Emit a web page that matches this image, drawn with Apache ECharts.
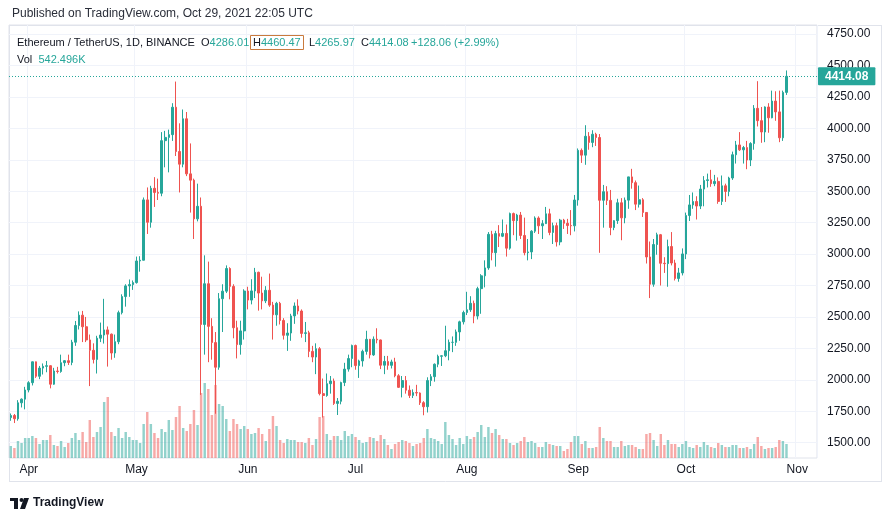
<!DOCTYPE html>
<html><head><meta charset="utf-8">
<script src="https://cdn.jsdelivr.net/npm/echarts/dist/echarts.min.js"></script>
<style>html,body{margin:0;padding:0;background:#fff}#c{width:892px;height:521px}</style>
</head><body><div id="c"></div>
<script>
// ---- data (ETH/USDT daily, Binance) ----
const startDate = '2021-03-27';
const axisEndDate = '2021-11-06';
const monthNames = ['Jan','Feb','Mar','Apr','May','Jun','Jul','Aug','Sep','Oct','Nov','Dec'];
const priceTicks = [1500,1750,2000,2250,2500,2750,3000,3250,3500,3750,4000,4250,4500,4750];

const opens = [
1700,1716,1690,1817,1846,
1919,1977,2143,2028,2093,2107,2112,1965,2070,2066,2136,2152,2138,2299,2432,2514,2422,2317,2235,2162,2331,2356,2397,2363,2213,2303,2534,2662,2747,2757,
2773,2945,2951,3431,3253,3523,3490,3484,3902,3928,3950,4168,3816,3715,4076,3638,3588,3280,3380,2440,2764,2425,2296,2100,2645,2705,2885,2743,2414,2280,2389,
2706,2634,2707,2855,2690,2628,2712,2594,2517,2608,2472,2354,2372,2508,2587,2547,2369,2374,2226,2181,2247,1890,1875,1969,1990,1812,1829,1978,2085,2169,
2273,2113,2150,2226,2322,2198,2323,2317,2116,2146,2115,2142,2032,1940,1994,1917,1876,1898,1895,1818,1786,1994,2025,2124,2187,2191,2231,2298,2298,2381,2461,
2535,2557,2608,2507,2725,2827,2890,3157,3011,3163,3142,3164,3047,3322,3266,3310,3148,3011,3017,3182,3287,3225,3242,3320,3172,3226,3097,3270,3245,3227,3225,
3430,3825,3787,3937,3888,3953,3927,3428,3496,3427,3211,3266,3408,3288,3429,3614,3568,3397,3432,3331,2977,2760,3076,3154,2927,2924,3060,2929,2806,2850,
3001,3307,3391,3418,3382,3517,3585,3591,3560,3578,3419,3543,3498,3605,3790,3868,3829,3847,3748,3879,4159,4061,3971,4170,4084,4217,4131,3925,4286.01
];
const closes = [
1716,1690,1817,1846,1919,
1977,2143,2028,2093,2107,2112,1965,2070,2066,2136,2152,2138,2299,2432,2514,2422,2317,2235,2162,2331,2356,2397,2363,2213,2303,2534,2662,2747,2757,2773,
2945,2951,3431,3253,3523,3490,3484,3902,3928,3950,4168,3816,3715,4076,3638,3588,3280,3380,2440,2764,2425,2296,2100,2645,2705,2885,2743,2414,2280,2389,2706,
2634,2707,2855,2690,2628,2712,2594,2517,2608,2472,2354,2372,2508,2587,2547,2369,2374,2226,2181,2247,1890,1875,1969,1990,1812,1829,1978,2085,2169,2273,
2113,2150,2226,2322,2198,2323,2317,2116,2146,2115,2142,2032,1940,1994,1917,1876,1898,1895,1818,1786,1994,2025,2124,2187,2191,2231,2298,2298,2381,2461,2535,
2557,2608,2507,2725,2827,2890,3157,3011,3163,3142,3164,3047,3322,3266,3310,3148,3011,3017,3182,3287,3225,3242,3320,3172,3226,3097,3270,3245,3227,3225,3430,
3825,3787,3937,3888,3953,3927,3428,3496,3427,3211,3266,3408,3288,3429,3614,3568,3397,3432,3331,2977,2760,3076,3154,2927,2924,3060,2929,2806,2850,3001,
3307,3391,3418,3382,3517,3585,3591,3560,3578,3419,3543,3498,3605,3790,3868,3829,3847,3748,3879,4159,4061,3971,4170,4084,4217,4131,3925,4286,4414.08
];
const highs = [
1732,1728,1838,1852,1944,
1989,2145,2145,2110,2130,2150,2115,2095,2103,2200,2157,2200,2318,2468,2544,2548,2500,2360,2290,2350,2455,2644,2424,2368,2360,2550,2680,2760,2798,2790,
2980,2983,3450,3530,3543,3612,3600,3970,3980,3990,4200,4372,4040,4150,4130,3880,3600,3560,3450,2990,2940,2490,2380,2690,2760,2910,2895,2760,2470,2470,2720,
2740,2800,2890,2860,2820,2745,2845,2620,2620,2620,2490,2450,2525,2615,2640,2560,2460,2390,2270,2290,2260,2010,2050,2030,2010,1855,1985,2135,2200,2280,
2280,2160,2240,2390,2325,2345,2410,2320,2190,2190,2160,2175,2045,2030,2030,1955,1924,1960,1900,1830,2020,2045,2130,2200,2195,2430,2320,2345,2400,2470,2550,
2700,2665,2630,2740,2840,2950,3175,3185,3185,3230,3275,3235,3330,3330,3320,3335,3290,3120,3190,3300,3300,3270,3375,3360,3250,3250,3280,3280,3280,3350,3470,
3840,3840,4025,3970,3985,3965,3955,3550,3540,3510,3270,3440,3445,3450,3615,3678,3585,3545,3445,3332,3100,3120,3170,3160,2975,3115,3175,2955,2890,3045,
3330,3470,3490,3460,3550,3620,3640,3670,3630,3610,3625,3560,3615,3815,3900,3970,3860,3900,3890,4185,4375,4170,4175,4200,4300,4295,4300,4300,4460.47
];
const lows = [
1674,1656,1675,1780,1765,
1900,1955,2015,2005,2042,2060,1932,1960,2050,2056,2108,2118,2116,2270,2400,2300,2300,1950,2130,2050,2300,2288,2105,2160,2175,2283,2520,2582,2660,2715,
2765,2860,2950,3160,3210,3375,3430,3460,3690,3650,3900,3780,3490,3690,3620,3330,3120,3260,1880,2200,2140,2160,1730,2080,2380,2690,2640,2330,2170,2200,2320,
2560,2600,2650,2550,2560,2610,2580,2320,2430,2440,2320,2230,2310,2445,2520,2335,2300,2180,2140,2045,1876,1700,1865,1890,1800,1720,1805,1950,2065,2100,
2080,2015,2105,2200,2170,2190,2290,2085,2045,2080,2090,2020,1935,1860,1890,1855,1855,1870,1800,1718,1740,1950,1985,2100,2110,2180,2155,2220,2270,2310,2440,
2515,2540,2450,2480,2525,2735,2875,2950,2900,3056,3135,2980,3035,3150,3107,3120,2990,2950,2960,3168,3160,3120,3240,3150,3080,3060,3070,3200,3160,3150,3180,
3385,3725,3710,3830,3850,3860,3010,3210,3390,3150,3190,3240,3110,3245,3360,3520,3350,3370,3295,2925,2650,2740,2995,2750,2850,2740,2910,2790,2780,2830,
2960,3263,3360,3275,3358,3380,3530,3535,3540,3400,3390,3415,3460,3590,3720,3820,3720,3675,3700,3830,4015,3885,3890,3965,4080,4060,3890,3900,4265.97
];
// volume in thousands of ETH
const volumes = [
465,388,659,581,775,
775,853,775,543,698,698,891,504,465,659,426,581,775,969,698,1008,620,1473,814,1008,1201,2170,2364,1008,853,1163,775,1008,814,698,
698,581,1318,1783,1318,969,775,1124,1008,1473,1085,1589,2015,1163,1046,1318,1860,1279,2519,2906,2674,1666,2829,2093,2015,1511,1046,1511,1318,1124,1240,
1124,930,969,1163,930,659,1124,1628,1240,698,581,736,698,698,620,620,581,775,504,736,1589,1628,930,698,853,853,698,1046,853,930,
814,698,581,620,814,775,659,891,736,504,349,543,620,698,659,581,465,543,581,775,1124,775,736,659,543,1395,891,736,504,775,543,
853,736,814,1008,1279,814,1201,969,1124,891,736,736,581,504,581,659,814,620,659,581,426,426,620,543,504,465,465,271,349,620,853,
853,543,659,388,388,426,1201,775,659,659,426,426,659,465,504,504,426,349,349,930,969,698,465,930,504,698,543,543,426,543,
659,426,388,504,426,620,504,426,388,581,504,426,426,504,504,388,388,426,349,543,814,465,349,388,388,426,698,659,542.496
];
const lastPrice = 4414.08;

// ---- build options ----
function fmt(d){const m=d.getUTCMonth()+1, dd=d.getUTCDate();return d.getUTCFullYear()+'-'+(m<10?'0':'')+m+'-'+(dd<10?'0':'')+dd;}
const dates = [];
for (let d = new Date(startDate+'T00:00:00Z'); fmt(d) <= axisEndDate; d = new Date(d.getTime()+86400000)) dates.push(fmt(d));

const UP = '#26a69a', DOWN = '#ef5350', INK = '#131722';
const FONT = '"Liberation Sans", Arial, sans-serif';
const candleData = dates.map((d,i)=> i<opens.length ? [opens[i],closes[i],lows[i],highs[i]] : '-');
const volData = dates.map((d,i)=> i<volumes.length ? {value: volumes[i], itemStyle:{color: closes[i]>=opens[i] ? 'rgba(38,166,154,0.5)' : 'rgba(239,83,80,0.5)'}} : '-');
const isMonthStart = (idx, val) => typeof val === 'string' && val.slice(8) === '01';

const richKV = {k:{fontSize:11,color:INK,fontFamily:FONT}, v:{fontSize:11,color:UP,fontFamily:FONT}};
function legendTitle(text, left, top, extra){
  return Object.assign({text: text, left: left, top: top, padding: 0, itemGap: 0,
    textStyle: {fontSize: 11, fontWeight: 'normal', color: INK, fontFamily: FONT, rich: richKV}}, extra || {});
}

const chart = echarts.init(document.getElementById('c'), null, {renderer:'canvas'});
const gridTop = 25, gridBottomY = 458;
chart.setOption({
  animation: false,
  backgroundColor: '#ffffff',
  textStyle: {fontFamily: FONT},
  title: [
    {text: 'Published on TradingView.com, Oct 29, 2021 22:05 UTC', left: 12, top: 8, padding: 0,
     textStyle: {fontSize: 12, fontWeight: 'normal', color: '#2a2e39', fontFamily: FONT}},
    legendTitle('Ethereum / TetherUS, 1D, BINANCE', 17, 37),
    legendTitle('{k|O}{v|4286.01}', 201, 37),
    legendTitle('{k|H}{v|4460.47}', 250, 35, {padding: [2,3,2,3], borderColor: '#c97a3d', borderWidth: 1}),
    legendTitle('{k|L}{v|4265.97}', 309, 37),
    legendTitle('{k|C}{v|4414.08}', 361, 37),
    legendTitle('{v|+128.06 (+2.99%)}', 411, 37),
    legendTitle('{k|Vol}  {v|542.496K}', 17, 54),
    {text: 'TradingView', left: 33, top: 497, padding: 0, textStyle:{fontSize: 12, fontWeight:'bold', color: INK, fontFamily: FONT}}
  ],
  graphic: [
    {type:'line', shape:{x1:9,y1:25.5,x2:882,y2:25.5}, style:{stroke:'#e0e3eb',lineWidth:1}, silent:true},
    {type:'line', shape:{x1:9.5,y1:25,x2:9.5,y2:482}, style:{stroke:'#e0e3eb',lineWidth:1}, silent:true},
    {type:'line', shape:{x1:881.5,y1:25,x2:881.5,y2:482}, style:{stroke:'#e0e3eb',lineWidth:1}, silent:true},
    {type:'line', shape:{x1:9,y1:481.5,x2:882,y2:481.5}, style:{stroke:'#e0e3eb',lineWidth:1}, silent:true},
    {type:'rect', shape:{x:10,y:498,width:8,height:3}, style:{fill:INK}, silent:true},
    {type:'rect', shape:{x:14,y:498,width:4,height:11}, style:{fill:INK}, silent:true},
    {type:'circle', shape:{cx:21.5,cy:500,r:2}, style:{fill:INK}, silent:true},
    {type:'polygon', shape:{points:[[24,498],[29,498],[25,509],[20,509]]}, style:{fill:INK}, silent:true}
  ],
  grid: {left: 9, right: 892-817, top: gridTop, bottom: 521-gridBottomY, show: true, borderColor: '#e0e3eb', borderWidth: 1},
  xAxis: {
    type: 'category', data: dates, boundaryGap: true,
    axisLine: {show: false}, axisTick: {show: false},
    axisLabel: {interval: isMonthStart, formatter: v => monthNames[parseInt(v.slice(5,7),10)-1],
                color: INK, fontSize: 12, margin: 6},
    splitLine: {show: true, interval: isMonthStart, lineStyle: {color: '#f0f3fa', width: 1}}
  },
  yAxis: [
    {type: 'value', position: 'right', scale: true, min: 1378, max: 4822,
     axisLine: {show: false}, axisTick: {show: false, customValues: priceTicks},
     axisLabel: {color: INK, fontSize: 12, margin: 10, customValues: priceTicks, formatter: v => v.toFixed(2)},
     splitLine: {show: true, lineStyle: {color: '#f0f3fa', width: 1}}},
    {type: 'value', min: 0, max: 16779, show: false, splitLine:{show:false}}
  ],
  series: [
    {type: 'bar', name: 'Vol', xAxisIndex: 0, yAxisIndex: 1, data: volData, barWidth: '68%', silent: true},
    {type: 'candlestick', name: 'ETHUSDT', xAxisIndex: 0, yAxisIndex: 0, data: candleData, barWidth: '58%',
     itemStyle: {color: UP, color0: DOWN, borderColor: UP, borderColor0: DOWN, borderWidth: 1},
     markLine: {symbol: ['none','none'], silent: true,
       lineStyle: {type: [1,2], color: UP, width: 1},
       label: {show: true, position: 'end', distance: 1, formatter: () => lastPrice.toFixed(2), color: '#ffffff', fontWeight: 'bold', fontSize: 12,
               backgroundColor: UP, padding: [3,7,3,7], borderRadius: 1},
       data: [{yAxis: lastPrice}]}}
  ]
});
</script></body></html>
